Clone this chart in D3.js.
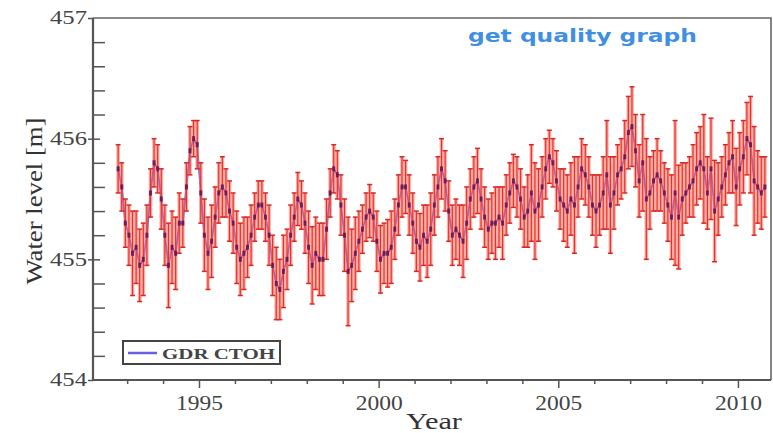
<!DOCTYPE html>
<html>
<head>
<meta charset="utf-8">
<script src="https://cdn.jsdelivr.net/npm/d3@7"></script>
<style>
  html, body { margin: 0; padding: 0; background: #fff; }
  svg { display: block; }
</style>
</head>
<body>
<svg id="chart" width="773" height="433"></svg>
<script>
// ---- data ----
// first sample and sampling step, in decimal years
const startYear = 1992.75;
const stepYear = 0.1;
// mean water level [m], one value per sample
const levels = [
  455.75, 455.6, 455.3,
  455.2, 455.05, 455.1, 454.95, 455.0, 455.2, 455.55, 455.8, 455.75, 455.5,
  455.2, 454.95, 455.1, 455.05, 455.3, 455.3, 455.6, 455.9, 456.0, 455.95,
  455.55, 455.2, 455.05, 455.15, 455.35, 455.55, 455.6, 455.55, 455.4, 455.3,
  455.1, 455.0, 455.05, 455.1, 455.2, 455.35, 455.45, 455.45, 455.35, 455.2,
  454.95, 454.8, 454.75, 454.9, 455.0, 455.2, 455.35, 455.5, 455.45, 455.3,
  455.1, 454.95, 455.05, 455.0, 455.0, 455.25, 455.55, 455.75, 455.7, 455.45,
  455.2, 454.9, 454.95, 455.05, 455.15, 455.25, 455.35, 455.4, 455.35, 455.15,
  455.0, 455.05, 455.05, 455.1, 455.25, 455.45, 455.6, 455.6, 455.45, 455.3,
  455.15, 455.1, 455.2, 455.15, 455.25, 455.45, 455.6, 455.75, 455.65, 455.4,
  455.2, 455.25, 455.2, 455.15, 455.3, 455.5, 455.6, 455.65, 455.5, 455.35,
  455.25, 455.3, 455.3, 455.35, 455.3, 455.45, 455.55, 455.65, 455.6, 455.5,
  455.35, 455.4, 455.55, 455.4, 455.45, 455.6, 455.75, 455.85, 455.8, 455.65,
  455.5, 455.45, 455.4, 455.5, 455.45, 455.6, 455.75, 455.7, 455.6, 455.45,
  455.4, 455.45, 455.55, 455.7, 455.45, 455.55, 455.7, 455.75, 455.85, 456.05,
  456.1, 455.9, 455.65, 455.8, 455.5, 455.55, 455.65, 455.7, 455.65, 455.55,
  455.45, 455.35, 455.55, 455.35, 455.5, 455.55, 455.6, 455.65, 455.75, 455.8,
  455.75, 455.55, 455.75, 455.4, 455.5, 455.6, 455.7, 455.8, 455.85, 455.6,
  455.75, 455.85, 456.0, 455.95, 455.65, 455.6, 455.55, 455.6
];
// error bar half width [m]
const errors = [
  0.2, 0.2, 0.2,
  0.25, 0.35, 0.3, 0.3, 0.3, 0.25, 0.2, 0.2, 0.2, 0.25,
  0.25, 0.35, 0.3, 0.3, 0.25, 0.2, 0.2, 0.2, 0.15, 0.2,
  0.25, 0.3, 0.3, 0.3, 0.25, 0.25, 0.25, 0.2, 0.25, 0.25,
  0.3, 0.3, 0.3, 0.25, 0.25, 0.2, 0.2, 0.2, 0.2, 0.25,
  0.25, 0.3, 0.25, 0.3, 0.25, 0.25, 0.2, 0.22, 0.2, 0.25,
  0.3, 0.32, 0.3, 0.3, 0.3, 0.25, 0.2, 0.2, 0.2, 0.25,
  0.3, 0.45, 0.3, 0.3, 0.25, 0.2, 0.2, 0.22, 0.2, 0.25,
  0.28, 0.25, 0.28, 0.3, 0.25, 0.25, 0.25, 0.22, 0.25, 0.25,
  0.25, 0.28, 0.25, 0.3, 0.3, 0.25, 0.25, 0.25, 0.25, 0.25,
  0.25, 0.25, 0.25, 0.3, 0.3, 0.25, 0.25, 0.27, 0.25, 0.25,
  0.25, 0.25, 0.3, 0.25, 0.3, 0.25, 0.25, 0.22, 0.25, 0.25,
  0.25, 0.3, 0.4, 0.4, 0.3, 0.25, 0.25, 0.22, 0.2, 0.25,
  0.25, 0.3, 0.3, 0.3, 0.4, 0.25, 0.25, 0.25, 0.25, 0.25,
  0.3, 0.25, 0.3, 0.45, 0.4, 0.3, 0.25, 0.25, 0.3, 0.3,
  0.33, 0.3, 0.3, 0.4, 0.5, 0.3, 0.25, 0.3, 0.25, 0.25,
  0.3, 0.35, 0.6, 0.43, 0.3, 0.25, 0.25, 0.3, 0.3, 0.3,
  0.45, 0.3, 0.42, 0.42, 0.3, 0.25, 0.25, 0.25, 0.3, 0.32,
  0.3, 0.3, 0.3, 0.4, 0.45, 0.3, 0.3, 0.25
];
const yMajor = [454, 455, 456, 457];
const yMinor = [454.2, 454.4, 454.6, 454.8, 455.2, 455.4, 455.6, 455.8, 456.2, 456.4, 456.6, 456.8];
const xMajor = [1995, 2000, 2005, 2010];
const xMinor = [1993, 1994, 1996, 1997, 1998, 1999, 2001, 2002, 2003, 2004, 2006, 2007, 2008, 2009];
const legendLabel = "GDR CTOH";
const watermark = "get quality graph";

// ---- layout ----
const svg = d3.select("#chart");
const plot = { left: 93, right: 771, top: 18, bottom: 380 };
const axisColor = "#555";
const serif = "'Liberation Serif', 'DejaVu Serif', serif";

const series = levels.map((v, i) => ({ t: startYear + i * stepYear, v, e: errors[i] }));

const x = d3.scaleLinear([1992.05, 2010.92], [plot.left, plot.right]);
const y = d3.scaleLinear([454, 457], [plot.bottom, plot.top]);

// watermark
svg.append("text")
  .attr("x", 468).attr("y", 42)
  .attr("font-family", "'DejaVu Sans', sans-serif")
  .attr("font-weight", "bold")
  .attr("font-size", 17)
  .attr("fill", "#3f8fe2")
  .attr("textLength", 229)
  .attr("lengthAdjust", "spacingAndGlyphs")
  .text(watermark);

// mean line (mostly hidden under the bars, as in the source)
svg.append("path")
  .datum(series)
  .attr("fill", "none")
  .attr("stroke", "#5757ec")
  .attr("stroke-width", 1.8)
  .attr("d", d3.line().x(d => x(d.t)).y(d => y(d.v)));

// error bars
const barG = svg.append("g").attr("class", "errorbars");
barG.selectAll("rect")
  .data(series)
  .join("rect")
  .attr("x", d => x(d.t) - 1.8)
  .attr("width", 3.6)
  .attr("y", d => y(d.v + d.e))
  .attr("height", d => y(d.v - d.e) - y(d.v + d.e))
  .attr("fill", "#ff7466")
  .attr("opacity", 0.6);
barG.selectAll("line.stem")
  .data(series)
  .join("line")
  .attr("class", "stem")
  .attr("x1", d => x(d.t)).attr("x2", d => x(d.t))
  .attr("y1", d => y(d.v + d.e)).attr("y2", d => y(d.v - d.e))
  .attr("stroke", "#e8312c")
  .attr("stroke-width", 1.2);
["top", "bottom"].forEach(side => {
  barG.selectAll(`line.cap-${side}`)
    .data(series)
    .join("line")
    .attr("class", `cap-${side}`)
    .attr("x1", d => x(d.t) - 2.5).attr("x2", d => x(d.t) + 2.5)
    .attr("y1", d => y(side === "top" ? d.v + d.e : d.v - d.e))
    .attr("y2", d => y(side === "top" ? d.v + d.e : d.v - d.e))
    .attr("stroke", "#d42a26")
    .attr("stroke-width", 1.5);
});

// mean markers
svg.append("g")
  .selectAll("rect")
  .data(series)
  .join("rect")
  .attr("x", d => x(d.t) - 1.5)
  .attr("y", d => y(d.v) - 2.5)
  .attr("width", 3)
  .attr("height", 5)
  .attr("fill", "#5a1458")
  .attr("opacity", 0.85);

// frame top + right
svg.append("path")
  .attr("d", `M${plot.left},${plot.top}H${plot.right}V${plot.bottom}`)
  .attr("fill", "none")
  .attr("stroke", "#666")
  .attr("stroke-width", 1.6);

// y axis: major ticks cross the line, minor point inward
function styleAxis(g) {
  g.selectAll("line").attr("stroke", axisColor).attr("stroke-width", 1.5);
  g.selectAll("text")
    .attr("fill", "#444")
    .attr("font-family", serif);
}
svg.append("g")
  .attr("transform", `translate(${plot.left},0)`)
  .call(d3.axisLeft(y).tickValues(yMajor).tickSize(5).tickPadding(1).tickFormat(d3.format("d")))
  .call(g => g.select(".domain").remove())
  .call(styleAxis)
  .call(g => g.selectAll("text")
    .attr("font-size", 18)
    .attr("textLength", 37)
    .attr("lengthAdjust", "spacingAndGlyphs"));
svg.append("g")
  .attr("transform", `translate(${plot.left},0)`)
  .call(d3.axisRight(y).tickValues(yMajor.slice(1, 3)).tickSize(7).tickFormat(""))
  .call(g => g.select(".domain").remove())
  .call(styleAxis);
svg.append("g")
  .attr("transform", `translate(${plot.left},0)`)
  .call(d3.axisRight(y).tickValues(yMinor).tickSize(12).tickFormat(""))
  .call(g => g.select(".domain").remove())
  .call(styleAxis);

// x axis
svg.append("g")
  .attr("transform", `translate(0,${plot.bottom})`)
  .call(d3.axisBottom(x).tickValues(xMinor).tickSize(4).tickFormat(""))
  .call(g => g.select(".domain").remove())
  .call(styleAxis);
svg.append("g")
  .attr("transform", `translate(0,${plot.bottom})`)
  .call(d3.axisBottom(x).tickValues(xMajor).tickSize(8).tickPadding(7).tickFormat(d3.format("d")))
  .call(g => g.select(".domain").remove())
  .call(styleAxis)
  .call(g => g.selectAll("text")
    .attr("font-size", 21)
    .attr("textLength", 47)
    .attr("lengthAdjust", "spacingAndGlyphs"));

// axis lines on top
svg.append("path")
  .attr("d", `M${plot.left},${plot.top}V${plot.bottom}H${plot.right}`)
  .attr("fill", "none")
  .attr("stroke", axisColor)
  .attr("stroke-width", 2.2);

// axis titles
svg.append("text")
  .attr("transform", "translate(42,201) rotate(-90)")
  .attr("text-anchor", "middle")
  .attr("font-family", serif)
  .attr("font-size", 23)
  .attr("fill", "#333")
  .attr("textLength", 167)
  .attr("lengthAdjust", "spacingAndGlyphs")
  .text("Water level [m]");
svg.append("text")
  .attr("x", 434).attr("y", 429)
  .attr("text-anchor", "middle")
  .attr("font-family", serif)
  .attr("font-size", 23)
  .attr("fill", "#333")
  .attr("textLength", 56)
  .attr("lengthAdjust", "spacingAndGlyphs")
  .text("Year");

// legend
const legendG = svg.append("g").attr("transform", "translate(123,341)");
legendG.append("rect")
  .attr("width", 157).attr("height", 23)
  .attr("fill", "#fff")
  .attr("stroke", "#444")
  .attr("stroke-width", 2);
legendG.append("line")
  .attr("x1", 5).attr("x2", 34)
  .attr("y1", 12).attr("y2", 12)
  .attr("stroke", "#6a5ee6")
  .attr("stroke-width", 2.5);
legendG.append("text")
  .attr("x", 39).attr("y", 18)
  .attr("font-family", serif)
  .attr("font-size", 15)
  .attr("font-weight", "bold")
  .attr("fill", "#444")
  .attr("textLength", 113)
  .attr("lengthAdjust", "spacingAndGlyphs")
  .text(legendLabel);
</script>
</body>
</html>
